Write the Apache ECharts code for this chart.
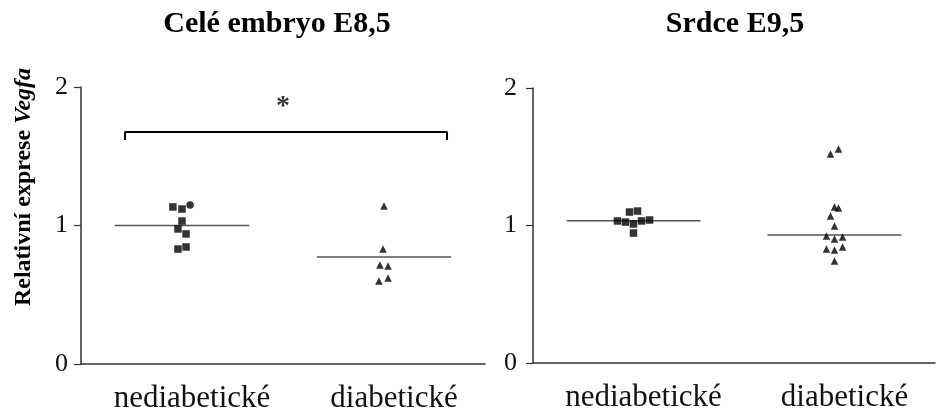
<!DOCTYPE html>
<html><head><meta charset="utf-8">
<script src="https://cdn.jsdelivr.net/npm/echarts@6/dist/echarts.min.js"></script>
<style>html,body{margin:0;padding:0;background:#fff}#c{width:938px;height:416px}</style>
</head><body><div id="c"></div>
<script>
// ---- data ----
const categories = ['nediabetické', 'diabetické'];
const panelTitles = ['Celé embryo E8,5', 'Srdce E9,5'];
const yTickLabels = ['0', '1', '2'];
const yAxisTitle = 'Relativní exprese ';
const yAxisTitleItalic = 'Vegfa';

// Celé embryo E8,5
const e85NonDiab = [1.134, 1.119, 1.148, 1.032, 0.975, 0.939, 0.830, 0.845];
const e85NonDiabJitter = [-0.045, 0, 0.04, 0, -0.02, 0.02, -0.02, 0.02];
const e85Diab = [1.141, 0.830, 0.715, 0.708, 0.599, 0.621];
const e85DiabJitter = [0, -0.005, -0.02, 0.02, -0.025, 0.02];
const e85Means = [1.0, 0.773];

// Srdce E9,5
const e95NonDiab = [1.033, 1.025, 1.011, 1.033, 1.040, 1.098, 1.105, 0.945];
const e95NonDiabJitter = [-0.08, -0.04, 0, 0.04, 0.08, -0.02, 0.02, 0];
const e95Diab = [1.520, 1.556, 1.135, 1.127, 1.069, 0.996, 0.924, 0.902, 0.916, 0.829, 0.822, 0.844, 0.742];
const e95DiabJitter = [-0.02, 0.02, 0, 0.02, -0.02, 0, -0.04, 0, 0.04, -0.04, 0, 0.04, 0];
const e95Means = [1.035, 0.931];

// significance annotation (left panel)
const sigBracketX = [0.218, 1.812];
const sigBracketY = [1.617, 1.675];
const sigStar = { x: 1.0, y: 1.9, text: '*' };

// ---- build ----
const FONT = "'Liberation Serif', 'Times New Roman', serif";
const catPos = [0.5, 1.5];
const halfW = 0.333;

function pts(vals, jit, c) { return vals.map((v, i) => [catPos[c] + jit[i], v]); }

function xAxis(gi) {
  return {
    gridIndex: gi, type: 'value', min: 0, max: 2, interval: 0.5,
    axisLine: { show: true, lineStyle: { color: '#333', width: 1.5 } },
    axisTick: { show: false }, splitLine: { show: false },
    axisLabel: {
      margin: 19, padding: [0, 0, 0, 20], color: '#111', fontFamily: FONT, fontSize: 31,
      showMinLabel: true, showMaxLabel: true,
      formatter: v => (Math.abs(v - 0.5) < 1e-6 ? categories[0] : Math.abs(v - 1.5) < 1e-6 ? categories[1] : '')
    }
  };
}
function yAxis(gi, margin) {
  return {
    gridIndex: gi, type: 'value', min: 0, max: 2, interval: 1,
    axisLine: { show: true, lineStyle: { color: '#333', width: 1.5 } },
    axisTick: { show: true, length: 7, lineStyle: { color: '#333', width: 1.2 } },
    splitLine: { show: false },
    axisLabel: { margin: margin, color: '#111', fontFamily: FONT, fontSize: 26, formatter: v => yTickLabels[Math.round(v)] }
  };
}

const series = [];
function panel(gi, nd, ndj, d, dj, means, circleIdx) {
  series.push({
    type: 'scatter', xAxisIndex: gi, yAxisIndex: gi, data: pts(nd, ndj, 0),
    symbol: (val, p) => (p.dataIndex === circleIdx ? 'circle' : 'rect'), symbolSize: 7.5,
    itemStyle: { color: '#000' }, z: 5
  });
  series.push({
    type: 'scatter', xAxisIndex: gi, yAxisIndex: gi, data: pts(d, dj, 1),
    symbol: 'triangle', symbolSize: [7.5, 7.5], itemStyle: { color: '#000' }, z: 5
  });
  means.forEach((m, c) => {
    series.push({
      type: 'line', xAxisIndex: gi, yAxisIndex: gi, symbol: 'none',
      data: [[catPos[c] - halfW, m], [catPos[c] + halfW, m]],
      lineStyle: { color: '#555', width: 1.6 }, z: 3
    });
  });
}
panel(0, e85NonDiab, e85NonDiabJitter, e85Diab, e85DiabJitter, e85Means, 2);
panel(1, e95NonDiab, e95NonDiabJitter, e95Diab, e95DiabJitter, e95Means, -1);

series.push({
  type: 'line', xAxisIndex: 0, yAxisIndex: 0, symbol: 'none',
  data: [[sigBracketX[0], sigBracketY[0]], [sigBracketX[0], sigBracketY[1]], [sigBracketX[1], sigBracketY[1]], [sigBracketX[1], sigBracketY[0]]],
  lineStyle: { color: '#000', width: 2 }
});
series.push({
  type: 'scatter', xAxisIndex: 0, yAxisIndex: 0, symbolSize: 0.1,
  data: [[sigStar.x, sigStar.y]],
  label: { show: true, position: 'inside', formatter: sigStar.text, fontFamily: FONT, fontWeight: 'bold', fontSize: 28, color: '#000', offset: [0, 6] }
});

const chart = echarts.init(document.getElementById('c'), null, { renderer: 'canvas' });
const titleStyle = { fontFamily: FONT, fontWeight: 'bold', fontSize: 30, color: '#000' };
chart.setOption({
  animation: false,
  backgroundColor: '#fff',
  title: [
    { text: panelTitles[0], left: 272, top: 4, textAlign: 'center', textStyle: titleStyle },
    { text: panelTitles[1], left: 730, top: 4, textAlign: 'center', textStyle: titleStyle }
  ],
  grid: [
    { left: 81, right: 453, top: 87, bottom: 52 },
    { left: 533, right: -13, top: 88, bottom: 53 }
  ],
  xAxis: [xAxis(0), xAxis(1)],
  yAxis: [yAxis(0, 13), yAxis(1, 16)],
  graphic: [{
    type: 'text', x: 24, y: 187, rotation: Math.PI / 2,
    style: {
      text: '{n|' + yAxisTitle + '}{i|' + yAxisTitleItalic + '}',
      align: 'center', verticalAlign: 'middle',
      rich: {
        n: { fontFamily: FONT, fontSize: 24, fontWeight: 'bold', fill: '#000', color: '#000' },
        i: { fontFamily: FONT, fontSize: 24, fontWeight: 'bold', fontStyle: 'italic', fill: '#000', color: '#000' }
      }
    }
  }],
  series: series
});
</script></body></html>
